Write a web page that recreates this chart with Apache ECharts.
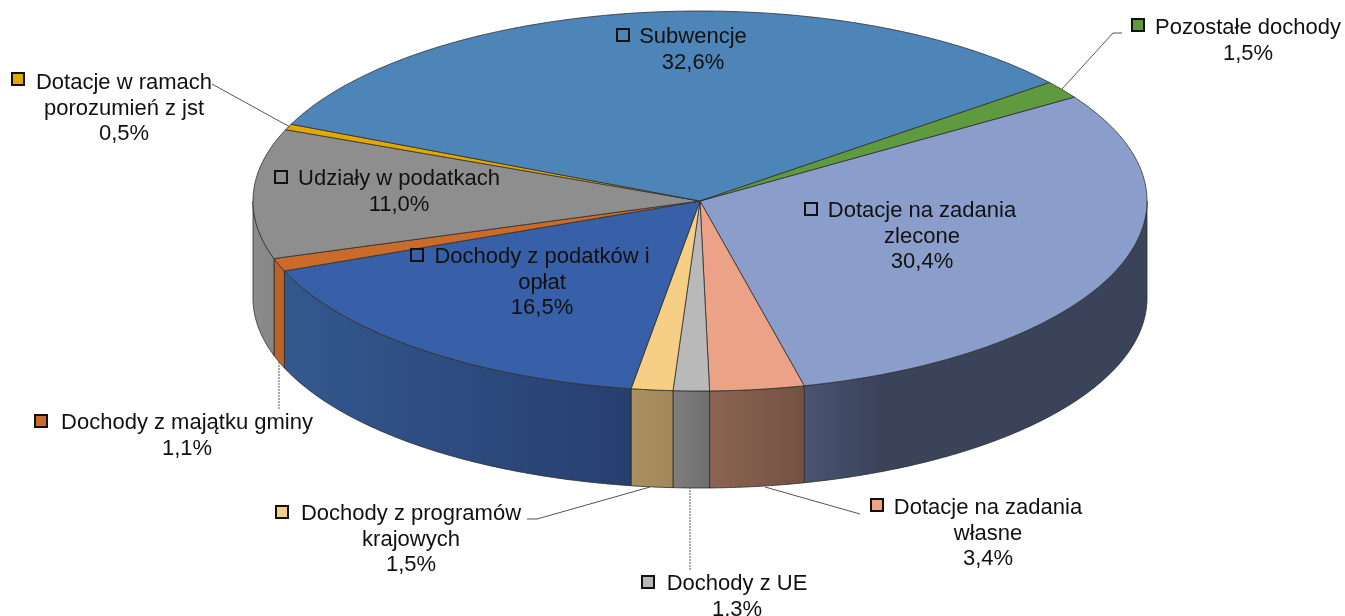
<!DOCTYPE html>
<html><head><meta charset="utf-8">
<style>html,body{margin:0;padding:0;background:#fff}#c{width:1345px;height:616px;filter:blur(0.4px)}</style>
<script src="https://cdn.jsdelivr.net/npm/echarts@6/dist/echarts.min.js"></script>
</head><body><div id="c"></div>
<script>
// DATA (clockwise, starting from the slice to the right of the centre)
const categories = ['Dotacje na zadania\nzlecone','Dotacje na zadania\nwłasne','Dochody z UE','Dochody z programów\nkrajowych','Dochody z podatków i\nopłat','Dochody z majątku gminy','Udziały w podatkach','Dotacje w ramach\nporozumień z jst','Subwencje','Pozostałe dochody'];
const values = [30.4,3.4,1.3,1.5,16.5,1.1,11.0,0.5,32.6,1.5];

// STYLE
const topColors = ['#8B9DCB','#EBA287','#B9B9B9','#F6CE85','#3760A9','#CB6B2A','#8E8E8E','#E2A700','#4E85B8','#5F9A3F'];
const wallColors = [['#4A5472','#3A435A'],['#8C6452','#745142'],['#7E7E7E','#6E6E6E'],['#AC9060','#A2875A'],['#33588F','#273F70'],['#B9622A','#B9622A'],['#8C8C8C','#868686'],['#888','#888'],['#888','#888'],['#888','#888']];

// LAYOUT: pie geometry, label anchors, legend-key boxes, leader lines
const pie = {cx:700, cy:201, rx:447, ry:190, depth:97, startDeg:33.15};
const labelPos = [[922,211],[988,508],[737,584],[411,514],[542,257],[187,423],[399,179],[124,83],[693,37],[1248,28]];
const keyPos = [[805,203],[871,499],[642,576],[276,506],[411,249],[35,415],[275,171],[12,73],[617,29],[1132,19]];
const leaders = [null,[[765,487],[860,514]],[[690,487],[690,570]],[[650,487],[537,519],[527,519]],null,[[279,362],[279,410]],null,[[290,127],[212,84]],null,[[1062,89],[1113,33],[1122,33]]];
const labelFont = '22px "Liberation Sans", Arial, sans-serif';
const lineH = 25.7;

const total = values.reduce((a,b)=>a+b,0);
const pt = (deg,dy)=>{const r=deg*Math.PI/180;return [pie.cx+pie.rx*Math.cos(r), pie.cy-pie.ry*Math.sin(r)+(dy||0)];};
const arc = (a,b,dy)=>{const n=Math.max(2,Math.ceil(Math.abs(b-a)*2)),o=[];for(let i=0;i<=n;i++)o.push(pt(a+(b-a)*i/n,dy));return o;};

function renderItem(params, api){
  const i = params.dataIndex;
  let before = 0; for(let k=0;k<i;k++) before += values[k];
  const val = api.value(0);
  const a0 = pie.startDeg - before/total*360, a1 = a0 - val/total*360;
  const children = [];
  // front wall: only the part of the rim with sin(angle) < 0
  for(const [lo,hi] of [[-180,0],[-540,-360]]){
    const s=Math.min(a0,hi), e=Math.max(a1,lo);
    if(s>e){
      children.push({type:'polygon',z2:1,shape:{points:arc(s,e,0).concat(arc(e,s,pie.depth))},
        style:{fill:new echarts.graphic.LinearGradient(0,0,1,0,[{offset:0,color:wallColors[i][0]},{offset:i===0?0.22:1,color:wallColors[i][1]},{offset:1,color:wallColors[i][1]}]),stroke:'#2b2b2b',lineWidth:0.8}});
    }
  }
  children.push({type:'polygon',z2:2,shape:{points:[[pie.cx,pie.cy]].concat(arc(a0,a1,0))},
    style:{fill:topColors[i],stroke:'#2e2e2e',lineWidth:0.8}});
  if(leaders[i]) children.push({type:'polyline',z2:3,shape:{points:leaders[i]},style:{fill:null,stroke:'#555',lineWidth:1,lineDash:(i===2||i===5)?[2,1]:null}});
  children.push({type:'rect',z2:5,shape:{x:keyPos[i][0],y:keyPos[i][1],width:12,height:12},style:{fill:topColors[i],stroke:'#111',lineWidth:2}});
  children.push({type:'text',z2:6,style:{text:api.value(1)+'\n'+val.toFixed(1).replace('.',',')+'%',x:labelPos[i][0],y:labelPos[i][1]-lineH/2,align:'center',verticalAlign:'top',font:labelFont,lineHeight:lineH,fill:'#111'}});
  return {type:'group',children};
}

const chart = echarts.init(document.getElementById('c'),null,{renderer:'canvas'});
chart.setOption({
  animation:false,
  backgroundColor:'#fff',
  series:[{type:'custom',coordinateSystem:'none',silent:true,clip:false,renderItem,
    data:values.map((v,i)=>[v,categories[i]]),dimensions:['value','name']}]
});
</script></body></html>
